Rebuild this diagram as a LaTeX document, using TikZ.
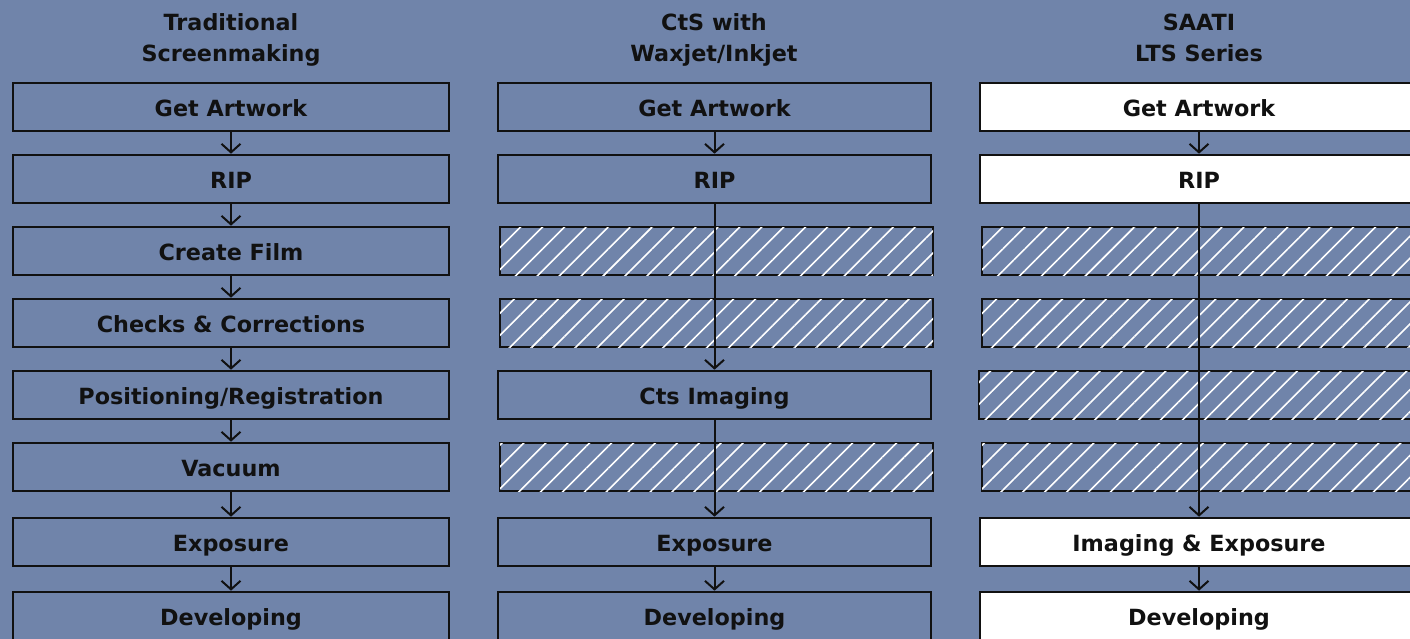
\documentclass[tikz,border=0pt]{standalone}
\usepackage{fontspec}
\setmainfont{DejaVu Sans}
\usepackage{xcolor}
\definecolor{flowBg}{RGB}{112, 132, 170}
\definecolor{flowInk}{RGB}{17, 17, 17}
\usepackage{tikz}
\usetikzlibrary{
    arrows.meta,
    positioning,
    patterns.meta
}

\begin{document}
\begin{tikzpicture}[
    x=1pt, y=-1pt,
    stepBox/.style={
        rectangle,
        draw=flowInk, line width=2.6pt,
        fill=flowBg, text=flowInk,
        font=\fontsize{22.3}{26}\selectfont\bfseries,
        align=center, inner sep=0pt, text height=18pt, text depth=0pt,
        minimum width=433pt, minimum height=48pt
    },
    stepWhite/.style={
        stepBox, fill=white, minimum width=438pt
    },
    stepSkipped/.style={
        stepBox,
        postaction={pattern={Lines[angle=45, distance=15.5pt, line width=1.6pt]}, pattern color=white}
    },
    colTitle/.style={
        font=\fontsize{22.3}{31}\selectfont\bfseries, text=flowInk,
        align=center, inner sep=0pt, anchor=base
    },
    flowArrow/.style={
        -{Straight Barb[length=8.5pt, width=19pt, line width=2pt]},
        line width=2pt, draw=flowInk
    }
]

    % Background
    \useasboundingbox (0,0) rectangle (1410,638);
    \clip (0,0) rectangle (1410,638);
    \fill[flowBg] (-5,-5) rectangle (1415,643);

    % Column titles
    \node[colTitle] (titleA) at (231, 61) {Traditional\\Screenmaking};
    \node[colTitle] (titleB) at (714, 61) {CtS with\\Waxjet/Inkjet};
    \node[colTitle] (titleC) at (1199, 61) {SAATI\\LTS Series};

    % Traditional screenmaking
    \node[stepBox, minimum width=436pt] (a1) at (231, 107) {Get Artwork};
    \node[stepBox, minimum width=436pt] (a2) at (231, 179) {RIP};
    \node[stepBox, minimum width=436pt] (a3) at (231, 251) {Create Film};
    \node[stepBox, minimum width=436pt] (a4) at (231, 323) {Checks \& Corrections};
    \node[stepBox, minimum width=436pt] (a5) at (231, 395) {Positioning/Registration};
    \node[stepBox, minimum width=436pt] (a6) at (231, 467) {Vacuum};
    \node[stepBox, minimum width=436pt] (a7) at (231, 542) {Exposure};
    \node[stepBox, minimum width=436pt] (a8) at (231, 616) {Developing};

    % CtS with waxjet/inkjet
    \node[stepBox] (b1) at (714.5, 107) {Get Artwork};
    \node[stepBox] (b2) at (714.5, 179) {RIP};
    \node[stepSkipped] (b3) at (716.5, 251) {};
    \node[stepSkipped] (b4) at (716.5, 323) {};
    \node[stepBox] (b5) at (714.5, 395) {Cts Imaging};
    \node[stepSkipped] (b6) at (716.5, 467) {};
    \node[stepBox] (b7) at (714.5, 542) {Exposure};
    \node[stepBox] (b8) at (714.5, 616) {Developing};

    % SAATI LTS series
    \node[stepWhite] (c1) at (1199, 107) {Get Artwork};
    \node[stepWhite] (c2) at (1199, 179) {RIP};
    \node[stepSkipped] (c3) at (1198.5, 251) {};
    \node[stepSkipped] (c4) at (1198.5, 323) {};
    \node[stepSkipped] (c5) at (1195.5, 395) {};
    \node[stepSkipped] (c6) at (1198.5, 467) {};
    \node[stepWhite] (c7) at (1199, 542) {Imaging \& Exposure};
    \node[stepWhite] (c8) at (1199, 616) {Developing};

    % Flows
    \draw[flowArrow] (a1) -- (a2);
    \draw[flowArrow] (a2) -- (a3);
    \draw[flowArrow] (a3) -- (a4);
    \draw[flowArrow] (a4) -- (a5);
    \draw[flowArrow] (a5) -- (a6);
    \draw[flowArrow] (a6) -- (a7);
    \draw[flowArrow] (a7) -- (a8);

    \draw[flowArrow] (b1) -- (b2);
    \draw[flowArrow] (b2.south) -- (b5.north);
    \draw[flowArrow] (b5.south) -- (b7.north);
    \draw[flowArrow] (b7) -- (b8);

    \draw[flowArrow] (c1) -- (c2);
    \draw[flowArrow] (c2.south) -- (c7.north);
    \draw[flowArrow] (c7) -- (c8);

\end{tikzpicture}
\end{document}
